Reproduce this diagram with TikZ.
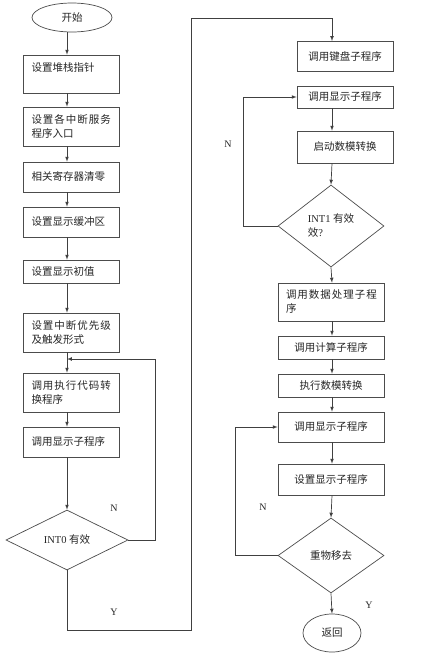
\documentclass[tikz,border=0pt]{standalone}
\usepackage{fontspec}
\setmainfont{Liberation Serif}
\newfontfamily\cjk{Noto Sans CJK SC}
\newfontfamily\cjkwide[LetterSpace=9.5]{Noto Sans CJK SC}
\usetikzlibrary{shapes.geometric}

\begin{document}
\begin{tikzpicture}[x=1pt,y=-1pt,
  box/.style={draw=black!70,line width=0.7pt,rectangle,inner xsep=8pt,inner ysep=0pt,
    text=black!85,font=\cjk\fontsize{10.5}{14}\selectfont},
  lbox/.style={box,text width=80pt,align=left},
  rbox/.style={box,minimum width=106pt,align=center},
  dec/.style={draw=black!70,line width=0.7pt,diamond,inner sep=0pt,align=left,
    text=black!85,font=\fontsize{10.5}{14}\selectfont},
  term/.style={draw=black!70,line width=0.7pt,ellipse,inner sep=0pt,
    text=black!85,font=\cjk\fontsize{10.5}{12}\selectfont},
  arr/.style={draw=black!75,line width=0.7pt,-latex},
  lab/.style={text=black!85,font=\fontsize{10}{12}\selectfont}]
\useasboundingbox[fill=white] (0,0) rectangle (422,662);
\coordinate (lx) at (67,0);
\coordinate (rx) at (332,0);

% main program
\node[term,minimum width=80pt,minimum height=29pt] (start) at (72,17.5) {开始};
\node[lbox,minimum height=38pt] (b1) at (71.5,74) {设置堆栈指针\\~};
\node[lbox,minimum height=39pt] (b2) at (71.5,126.5) {{\cjkwide 设置各中断服务}\\程序入口};
\node[lbox,minimum height=30pt] (b3) at (71.5,177) {相关寄存器清零};
\node[lbox,minimum height=30pt] (b4) at (71.5,222) {设置显示缓冲区};
\node[lbox,minimum height=23pt] (b5) at (71.5,271.5) {设置显示初值};
\node[lbox,minimum height=39pt] (b6) at (71.5,332.5) {{\cjkwide 设置中断优先级}\\及触发形式};
\node[lbox,minimum height=39pt] (b7) at (71.5,392.5) {{\cjkwide 调用执行代码转}\\换程序};
\node[lbox,minimum height=30pt] (b8) at (71.5,442) {调用显示子程序};
\node[dec,minimum width=122pt,minimum height=60pt] (d0) at (67,540) {INT0 {\cjk 有效}};

\draw[arr] (start.south -| lx) -- (b1.north -| lx);
\draw[arr] (b1.south -| lx) -- (b2.north -| lx);
\draw[arr] (b2.south -| lx) -- (b3.north -| lx);
\draw[arr] (b3.south -| lx) -- (b4.north -| lx);
\draw[arr] (b4.south -| lx) -- (b5.north -| lx);
\draw[arr] (b5.south -| lx) -- (b6.north -| lx);
\draw[arr] (b6.south -| lx) -- (b7.north -| lx);
\draw[arr] (b7.south -| lx) -- (b8.north -| lx);
\draw[arr] (b8.south -| lx) -- (d0.north);

\coordinate (j0) at (67,359);
\coordinate (c0) at (155,359);
\draw[arr] (d0.east) -| (c0) -- (j0);
\node[lab] (n0) at (114,508) {N};
\node[lab] (y0) at (114,612) {Y};

\coordinate (c1) at (191,630);
\coordinate (c2) at (191,18);
\draw[arr] (d0.south) |- (c1) -- (c2) -| (rx |- 0,41);

% right column
\node[rbox,minimum width=96pt,minimum height=30pt] (r1) at (345,56) {调用键盘子程序};
\node[rbox,minimum width=96pt,minimum height=22pt] (r2) at (345,97) {调用显示子程序};
\node[rbox,minimum width=96pt,minimum height=32pt] (r3) at (345,147) {启动数模转换};
\node[dec,minimum width=106pt,minimum height=82pt] (d1) at (331,226) {INT1 {\cjk 有效}\\{\cjk 效}?};
\node[box,text width=90pt,align=left,minimum height=38pt] (r4) at (331,302) {{\cjkwide 调用数据处理子程}\\序};
\node[rbox,minimum height=23pt] (r5) at (331,347.5) {调用计算子程序};
\node[rbox,minimum height=23pt] (r6) at (331,385.5) {执行数模转换};
\node[rbox,minimum height=30pt] (r7) at (331,427) {调用显示子程序};
\node[rbox,minimum height=31pt] (r8) at (331,479.5) {设置显示子程序};
\node[dec,minimum width=106pt,minimum height=75pt,font=\cjk\fontsize{10.5}{14}\selectfont] (d2) at (331,555.5) {重物移去};
\node[term,minimum width=58pt,minimum height=38pt] (ret) at (332,633) {返回};

\draw[arr] (r2.south -| rx) -- (r3.north -| rx);
\draw[arr] (r3.south -| rx) -- (d1.north);
\draw[arr] (d1.south) -- (r4.north -| rx);
\draw[arr] (r4.south -| rx) -- (r5.north -| rx);
\draw[arr] (r5.south -| rx) -- (r6.north -| rx);
\draw[arr] (r6.south -| rx) -- (r7.north -| rx);
\draw[arr] (r7.south -| rx) -- (r8.north -| rx);
\draw[arr] (r8.south -| rx) -- (d2.north);
\draw[arr] (d2.south) -- (ret.north);

\coordinate (c3) at (243,0);
\coordinate (c4) at (235,0);
\draw[arr] (d1.west) -| (c3 |- r2.west) -- (r2.west);
\draw[arr] (d2.west) -| (c4 |- r7.west) -- (r7.west);
\node[lab] (n1) at (228,144) {N};
\node[lab] (n2) at (263,507) {N};
\node[lab] (y1) at (369,605) {Y};
\end{tikzpicture}
\end{document}
